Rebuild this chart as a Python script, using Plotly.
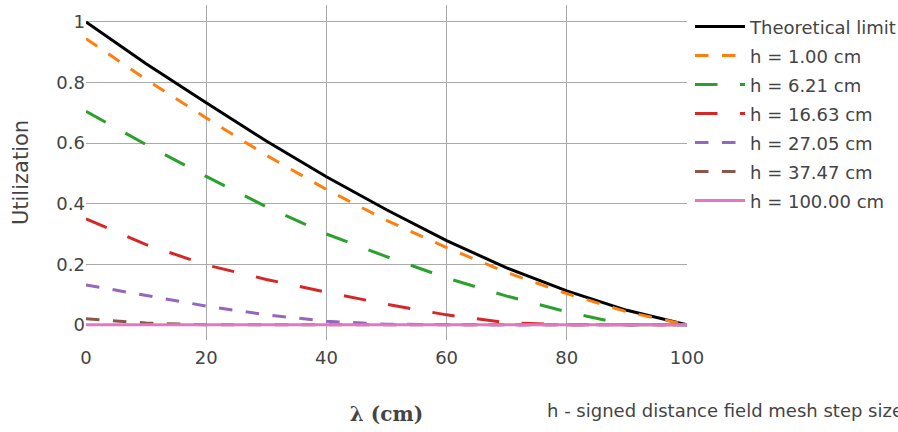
import plotly.graph_objects as go

lam = [0, 10, 20, 30, 40, 50, 60, 70, 80, 90, 100]

theoretical = [1.0, 0.862, 0.733, 0.607, 0.489, 0.38, 0.278, 0.188, 0.112, 0.048, 0.0]
h_1_00 = [0.945, 0.81, 0.683, 0.56, 0.447, 0.345, 0.255, 0.173, 0.103, 0.043, 0.0]
h_6_21 = [0.705, 0.595, 0.49, 0.39, 0.30, 0.225, 0.155, 0.095, 0.043, 0.0, 0.0]
h_16_63 = [0.35, 0.265, 0.198, 0.15, 0.108, 0.068, 0.033, 0.007, 0.0, 0.0, 0.0]
h_27_05 = [0.132, 0.097, 0.062, 0.033, 0.012, 0.002, 0.0, 0.0, 0.0, 0.0, 0.0]
h_37_47 = [0.02, 0.006, 0.0, 0.0, 0.0, 0.0, 0.0, 0.0, 0.0, 0.0, 0.0]
h_100_00 = [0.0] * 11

DASH = "13.5px,13.5px"
LONGDASH = "22.5px,22.5px"

series = [
    ("Theoretical limit", theoretical, "#000000", "solid"),
    ("h = 1.00 cm", h_1_00, "#ff7f0e", DASH),
    ("h = 6.21 cm", h_6_21, "#2ca02c", LONGDASH),
    ("h = 16.63 cm", h_16_63, "#d62728", LONGDASH),
    ("h = 27.05 cm", h_27_05, "#9467bd", DASH),
    ("h = 37.47 cm", h_37_47, "#8c564b", DASH),
    ("h = 100.00 cm", h_100_00, "#e377c2", "solid"),
]

fig = go.Figure()
for i, (name, ys, color, dash) in enumerate(series):
    fig.add_trace(go.Scatter(x=lam, y=ys, mode="lines", name=name, legendgroup=f"g{i}",
                             line=dict(color=color, dash=dash, width=3)))

fig.update_layout(
    width=898, height=432,
    margin=dict(l=86, r=211, t=5, b=92, autoexpand=False),
    paper_bgcolor="white", plot_bgcolor="white",
    font=dict(family="DejaVu Sans, Verdana, sans-serif", size=18, color="#444"),
    legend=dict(x=1.005, y=0.99, xanchor="left", yanchor="top", itemwidth=50,
                font=dict(size=18), tracegroupgap=2.6),
    xaxis=dict(range=[0, 100], dtick=20, showgrid=True, gridcolor="#aaaaaa",
               zeroline=False, showline=False, ticks="outside", ticklen=1,
               tickcolor="rgba(0,0,0,0)",
               title=dict(text="<b>λ (cm)</b>", font=dict(family="DejaVu Serif, serif", size=20, color="#444"),
                          standoff=40)),
    yaxis=dict(range=[-0.05, 1.056], tickvals=[0, 0.2, 0.4, 0.6, 0.8, 1],
               ticktext=["0", "0.2", "0.4", "0.6", "0.8", "1"],
               showgrid=True, gridcolor="#aaaaaa", zeroline=False, showline=False,
               title=dict(text="Utilization", font=dict(size=21), standoff=22)),
    annotations=[dict(text="h - signed distance field mesh step size", xref="paper", yref="paper",
                      x=0.764, y=-0.21, xanchor="left", yanchor="middle", showarrow=False,
                      font=dict(size=18, color="#444"))],
)

fig.write_html("out.html")
